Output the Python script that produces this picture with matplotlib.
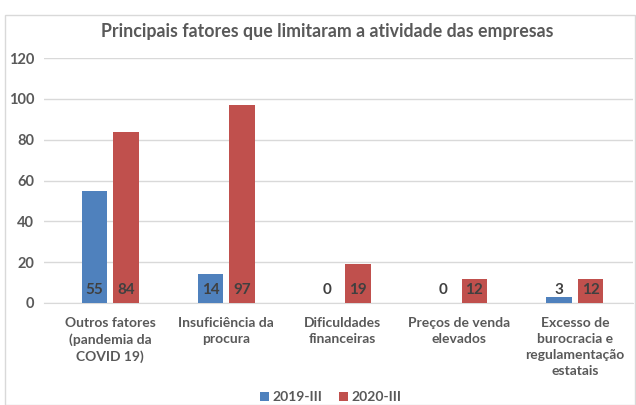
import matplotlib
matplotlib.use("Agg")
import matplotlib.pyplot as plt
from matplotlib.patches import Rectangle
import numpy as np

categories = ["Outros fatores\n(pandemia da\nCOVID 19)", "Insuficiência da\nprocura",
              "Dificuldades\nfinanceiras", "Preços de venda\nelevados",
              "Excesso de\nburocracia e\nregulamentação\nestatais"]
series_names = ["2019-III", "2020-III"]
values_2019 = [55, 14, 0, 0, 3]
values_2020 = [84, 97, 19, 12, 12]
yticks = [0, 20, 40, 60, 80, 100, 120]

plt.rcParams['font.family'] = ['Lato', 'DejaVu Sans']
gray = "#595959"
blue = "#4F81BD"
red = "#C0504D"

fig = plt.figure(figsize=(6.36, 4.05), dpi=100)
fig.patch.set_facecolor("white")
fig.patches.append(Rectangle((5/636, 0.0), 1 - 5/636 - 0.001, 1 - 15/405, transform=fig.transFigure,
                             fill=False, edgecolor="#d9d9d9", linewidth=1.0))

ax = fig.add_axes([44/636, 1 - 303/405, 589/636, 245/405])
x = np.arange(len(categories))
w = 0.22
off = 0.135
b1 = ax.bar(x - off, values_2019, w, color=blue, label=series_names[0], zorder=3)
b2 = ax.bar(x + off, values_2020, w, color=red, label=series_names[1], zorder=3)

for xi, v in zip(x, values_2019):
    ax.text(xi - off, 6.3, str(v), ha="center", va="center", fontsize=11, fontweight="bold", color="#404040", zorder=4)
for xi, v in zip(x, values_2020):
    ax.text(xi + off, 6.3, str(v), ha="center", va="center", fontsize=11, fontweight="bold", color="#404040", zorder=4)

ax.set_xlim(-0.5 - 8/116.2, len(categories) - 0.5)
ax.set_ylim(0, 120)
ax.set_yticks(yticks)
ax.set_yticklabels([str(t) for t in yticks], fontsize=10.5, fontweight="bold", color=gray)
ax.set_xticks(x)
ax.set_xticklabels(categories, fontsize=10, fontweight="bold", color=gray, linespacing=1.4)
ax.tick_params(axis="both", length=0)
ax.tick_params(axis="x", pad=10)
ax.tick_params(axis="y", pad=7)
ax.grid(axis="y", color="#d9d9d9", linewidth=1.0, zorder=0)
for s in ["top", "right", "left"]:
    ax.spines[s].set_visible(False)
ax.spines["bottom"].set_color("#d9d9d9")

fig.text(327/636, 1 - 32/405, "Principais fatores que limitaram a atividade das empresas",
         ha="center", va="center", fontsize=12.8, fontweight="bold", color=gray)

leg = fig.legend(handles=[b1, b2], labels=series_names, loc="center", bbox_to_anchor=(331/636, 1 - 397/405),
                 ncol=2, frameon=False, fontsize=10, handlelength=0.6, handleheight=0.6,
                 columnspacing=1.2, handletextpad=0.3)
for t in leg.get_texts():
    t.set_color(gray)
    t.set_fontweight("bold")

fig.savefig("out.png", dpi=100)
